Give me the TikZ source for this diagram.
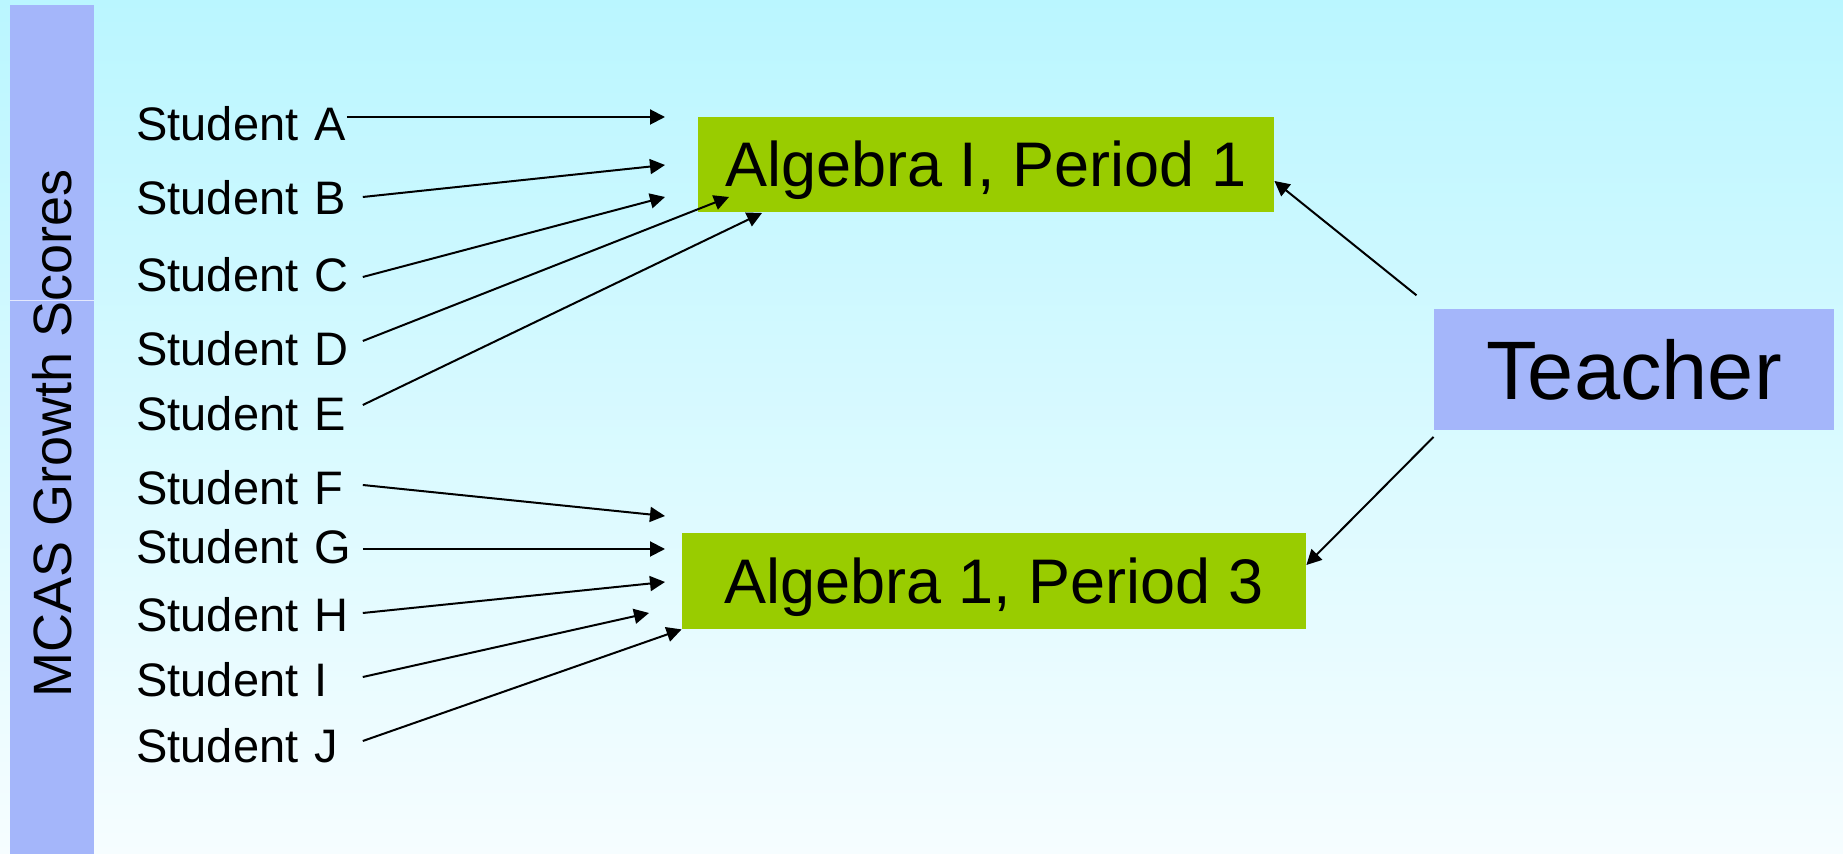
\documentclass[tikz,border=0pt]{standalone}
\usepackage{fontspec}
\setmainfont{Liberation Sans}
\usetikzlibrary{arrows.meta,positioning}
\definecolor{cBgTop}{HTML}{BAF6FF}
\definecolor{cBgBot}{HTML}{F6FDFF}
\definecolor{cCls}  {HTML}{99CC00}
\definecolor{cTch}  {HTML}{A4B6FA}
\tikzset{
  stu/.style ={anchor=west,text width=113pt,align=left,inner sep=0pt,
               text height=17pt,text depth=0pt,font=\fontsize{23.5}{26}\selectfont},
  cls/.style ={fill=cCls,inner sep=0pt,text height=22.5pt,text depth=0pt,
               font=\fontsize{31.5}{36}\selectfont},
  tch/.style ={fill=cTch,inner sep=0pt,minimum width=200pt,minimum height=60.5pt,
               font=\fontsize{41.5}{48}\selectfont},
  side/.style={rotate=90,inner sep=0pt,font=\fontsize{27}{30}\selectfont},
  sig/.style ={-{Triangle[length=7.5pt,width=7.5pt]},draw=black,line width=1pt},
}

\begin{document}
\begin{tikzpicture}[x=0.5pt,y=-0.5pt]
\useasboundingbox (0,0) rectangle (1843,854);
\shade[top color=cBgTop,bottom color=cBgBot] (0,0) rectangle (1843,854);

% ---------------- side bar ------------------------------------------------
\fill[cTch] (10,5) rectangle (94,854);
\draw[white!70!cTch,line width=0.5pt] (10,301) -- (94,301);
\node[side] (bar) at (52,433) {MCAS Growth Scores};

% ---------------- classes and teacher -------------------------------------
\node[cls,minimum width=288pt,minimum height=47.5pt] (alg1) at (986,164.5)
  {Algebra I, Period 1};
\node[cls,minimum width=312pt,minimum height=48pt] (alg2) at (994,581)
  {Algebra 1, Period 3};
\node[tch] (tch) at (1634,370) {Teacher};

% ---------------- students ------------------------------------------------
\foreach \n/\y in {A/124,B/198,C/275,D/349,E/414,F/488,G/547,H/615,I/680,J/746}
  {\node[stu] (s\n) at (136,\y) {Student \n};}
\foreach \n/\x/\y in {A/665/117,B/665/165,C/665/197,D/729/197,E/762/213,
                      F/665/516,G/665/549,H/665/582,I/649/613}
  {\coordinate (e\n) at (\x,\y);}
\draw[sig,shorten <=-8pt] ([yshift=3.5pt]sA.east) -- (eA);
\foreach \n/\d in {B/0.5,C/-1,D/4,E/4.5,F/1.5,G/-1,H/1,I/1.5}
  {\draw[sig] ([yshift=\d pt]s\n.east) -- (e\n);}
\draw[sig] ([yshift=2.5pt]sJ.east) -- (alg2.south west);

% ---------------- teacher links -------------------------------------------
\draw[sig,shorten <=11pt] (tch.north west) -- ([yshift=-8.25pt]alg1.east);
\draw[sig] ([yshift=-3pt]tch.south west) -- ([yshift=8pt]alg2.east);
\end{tikzpicture}
\end{document}
